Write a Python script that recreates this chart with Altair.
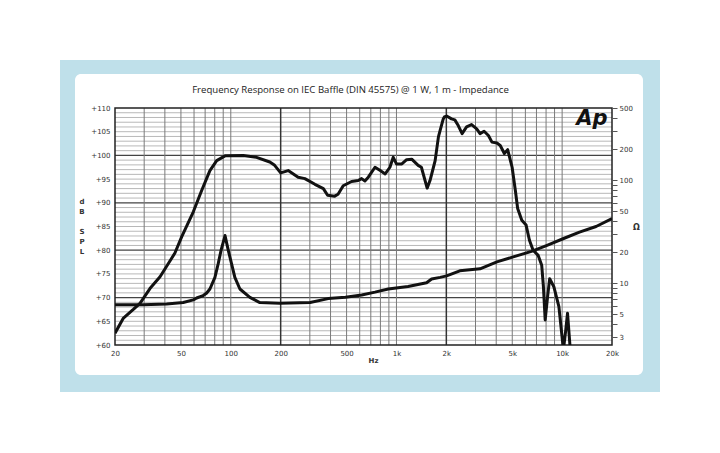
import altair as alt
import pandas as pd

# ---------------- data ----------------
spl_freq = [20, 22.4, 25.8, 28.3, 32.5, 37.4, 42, 46, 50.5, 59.4, 66.7, 74.8, 82.2, 92.3,
            119, 143, 172, 184, 200, 222, 255, 280, 322, 362, 384, 424, 444, 477, 536,
            588, 616, 645, 676, 742, 798, 855, 913, 956, 1000, 1078, 1152, 1236, 1352,
            1414, 1532, 1594, 1672, 1712, 1792, 1835, 1916, 1946, 2008, 2150, 2250,
            2360, 2490, 2650, 2840, 3050, 3195, 3380, 3590, 3770, 4040, 4230, 4480,
            4690, 4990, 5220, 5390, 5710, 6060, 6350, 6680, 7170, 7530, 7710, 7900,
            8170, 8410, 8910, 9560, 10180, 10520, 10780, 11200]
spl_db = [62.5, 65.6, 67.5, 68.8, 71.9, 74.4, 77.2, 79.4, 82.8, 88.1, 92.6, 96.8, 98.9, 99.9,
          100.0, 99.6, 98.6, 97.9, 96.3, 96.8, 95.4, 95.1, 93.9, 93.0, 91.6, 91.4, 91.8, 93.6, 94.5,
          94.7, 95.1, 94.6, 95.4, 97.5, 96.8, 96.1, 97.5, 99.6, 98.2, 98.2, 99.1, 99.2, 97.9,
          97.5, 93.1, 94.7, 97.5, 98.9, 103.9, 105.3, 107.7, 108.1, 108.3, 107.7, 107.5,
          106.3, 104.6, 106.0, 106.5, 105.6, 104.6, 105.1, 104.2, 102.8, 102.6, 102.1, 100.4,
          101.2, 97.5, 92.6, 88.8, 86.3, 85.3, 82.1, 80.0, 78.9, 76.8, 72.3, 65.3,
          70.2, 74.0, 72.3, 68.1, 59.0, 63.2, 66.7, 59.0]

imp_freq = [20, 29.6, 41, 51.6, 59.4, 62.2, 68.1, 71.3, 74.8, 80.2, 83.9, 87.3, 92.3, 96.6,
            101.1, 105.8, 113.5, 130.4, 149.7, 197, 301, 387, 492, 617, 742, 892, 1175,
            1520, 1630, 1835, 2008, 2412, 3195, 4040, 5070, 6530, 8040, 10120, 12730,
            16030, 20000]
imp_ohm = [6.2, 6.2, 6.3, 6.5, 6.9, 7.2, 7.6, 8.0, 8.8, 11.4, 15.4, 20.8, 29.0, 20.8,
           15.4, 11.4, 8.8, 7.3, 6.5, 6.4, 6.5, 7.1, 7.3, 7.7, 8.2, 8.8, 9.3,
           10.1, 11.0, 11.4, 11.8, 13.2, 13.8, 16.1, 18.0, 20.4, 23.2, 27.0, 31.3,
           35.5, 42.3]

x_tick_values = [20, 50, 100, 200, 500, 1000, 2000, 5000, 10000, 20000]
db_tick_values = [60, 65, 70, 75, 80, 85, 90, 95, 100, 105, 110]
ohm_tick_values = [3, 4, 5, 6, 7, 8, 9, 10, 20, 30, 40, 50, 60, 70, 80, 90,
                   100, 200, 300, 400, 500]
ohm_label_values = [3, 5, 10, 20, 50, 100, 200, 500]

grid_freq_minor = [30, 40, 50, 60, 70, 80, 90, 100, 300, 400, 500, 600, 700, 800, 900,
                   1000, 3000, 4000, 5000, 6000, 7000, 8000, 9000, 10000]
grid_freq_major = [200, 2000]
grid_db_minor = [d for d in range(61, 110) if d % 10 != 0]
grid_db_major = [70, 80, 90, 100]

title_text = "Frequency Response on IEC Baffle (DIN 45575) @ 1 W, 1 m - Impedance"
y_title_top = ["d", "B"]
y_title_bottom = ["S", "P", "L"]

# ---------------- tables ----------------
spl_df = pd.DataFrame({"f": spl_freq, "db": spl_db})
imp_df = pd.DataFrame({"f": imp_freq, "ohm": imp_ohm})
vmin_df = pd.DataFrame({"f": grid_freq_minor})
vmaj_df = pd.DataFrame({"f": grid_freq_major})
hmin_df = pd.DataFrame({"db": grid_db_minor})
hmaj_df = pd.DataFrame({"db": grid_db_major})
one = pd.DataFrame({"k": [0]})

W, H = 497, 237
LAB = "DejaVu Sans"
ohm_label_expr = ("indexof([" + ",".join(str(v) for v in ohm_label_values) +
                  "], datum.value) >= 0 ? '' + datum.value : ''")

xscale = alt.Scale(type="log", domain=[20, 20000], nice=False)
yscale = alt.Scale(domain=[60, 110], nice=False, zero=False)
oscale = alt.Scale(type="log", domain=[2.52, 500], nice=False)

xaxis = alt.Axis(values=x_tick_values,
                 labelExpr="datum.value >= 1000 ? (datum.value/1000) + 'k' : '' + datum.value",
                 orient="bottom", ticks=False, domain=False, grid=False,
                 labelFont=LAB, labelFontSize=7, labelColor="#333", labelPadding=4,
                 labelFlush=False, labelOverlap=False,
                 title="Hz", titleFont=LAB, titleFontSize=7, titleColor="#333",
                 titleFontWeight="bold", titleX=258, titleY=15, titleAlign="center",
                 titleBaseline="middle", zindex=1)
yaxis = alt.Axis(values=db_tick_values, labelExpr="'+' + datum.value",
                 orient="left", ticks=False, domain=False, grid=False,
                 labelFont=LAB, labelFontSize=7, labelColor="#333", labelPadding=5,
                 labelFlush=False, labelOverlap=False,
                 title=None, zindex=1)
oaxis = alt.Axis(values=ohm_tick_values, labelExpr=ohm_label_expr,
                 orient="right", ticks=True, tickSize=5, tickColor="#555", tickWidth=1,
                 domain=False, grid=False,
                 labelFont=LAB, labelFontSize=7, labelColor="#333", labelPadding=2,
                 labelFlush=False, labelOverlap=False,
                 title="Ω", titleAngle=0, titleX=24, titleY=119, titleAlign="center",
                 titleBaseline="middle", titleFont=LAB, titleFontSize=8, titleColor="#333",
                 titleFontWeight="bold", zindex=1)

# ---------------- decorative frame ----------------
outer = alt.Chart(one).mark_rect(color="#bfe0ea").encode(
    x=alt.value(-55), x2=alt.value(545), y=alt.value(-48), y2=alt.value(284))
panel = alt.Chart(one).mark_rect(color="white", cornerRadius=6).encode(
    x=alt.value(-40), x2=alt.value(528), y=alt.value(-34), y2=alt.value(267))

# ---------------- grid ----------------
hmin = alt.Chart(hmin_df).mark_rule(color="#a6a6a6", strokeWidth=0.8).encode(
    y=alt.Y("db:Q", scale=yscale, axis=yaxis))
hmaj = alt.Chart(hmaj_df).mark_rule(color="#444", strokeWidth=1.3).encode(
    y=alt.Y("db:Q", scale=yscale, axis=yaxis))
vmin = alt.Chart(vmin_df).mark_rule(color="#7a7a7a", strokeWidth=1).encode(
    x=alt.X("f:Q", scale=xscale, axis=xaxis))
vmaj = alt.Chart(vmaj_df).mark_rule(color="#333", strokeWidth=1.5).encode(
    x=alt.X("f:Q", scale=xscale, axis=xaxis))
border = alt.Chart(one).mark_rect(fillOpacity=0, stroke="#222", strokeWidth=1.5).encode(
    x=alt.value(0), x2=alt.value(W), y=alt.value(0), y2=alt.value(H))

# ---------------- curves ----------------
spl = alt.Chart(spl_df).mark_line(color="#111", strokeWidth=3, clip=True,
                                  strokeJoin="round").encode(
    x=alt.X("f:Q", scale=xscale, axis=xaxis),
    y=alt.Y("db:Q", scale=yscale, axis=yaxis),
    order="f:Q")
logo = alt.Chart(one).mark_text(text="Ap", font=LAB, fontSize=21, fontStyle="italic",
                                fontWeight="bold", color="#111").encode(
    x=alt.value(477), y=alt.value(11))
ylabel1 = alt.Chart(one).mark_text(text=y_title_top, font=LAB, fontSize=7,
                                   fontWeight="bold", color="#333", lineHeight=10,
                                   align="center", baseline="middle").encode(
    x=alt.value(-33), y=alt.value(94))
ylabel2 = alt.Chart(one).mark_text(text=y_title_bottom, font=LAB, fontSize=7,
                                   fontWeight="bold", color="#333", lineHeight=10,
                                   align="center", baseline="middle").encode(
    x=alt.value(-33), y=alt.value(124))

left = alt.layer(outer, panel, hmin, hmaj, vmin, vmaj, border, spl, logo, ylabel1, ylabel2)

imp = alt.Chart(imp_df).mark_line(color="#111", strokeWidth=3, clip=True,
                                  strokeJoin="round").encode(
    x=alt.X("f:Q", scale=xscale, axis=xaxis),
    y=alt.Y("ohm:Q", scale=oscale, axis=oaxis),
    order="f:Q")

chart = alt.layer(left, imp).resolve_scale(y="independent").properties(
    width=W, height=H,
    autosize=alt.AutoSizeParams(type="none"),
    padding={"left": 115, "top": 108, "right": 108, "bottom": 108},
    title=alt.TitleParams(text=title_text, font="Open Sans", fontSize=9.6,
                          fontWeight="normal", color="#222", anchor="middle",
                          dx=-13, dy=47, offset=12, zindex=1),
).configure_view(stroke=None).configure(background="white")

chart.save("out.html", embed_options={"renderer": "svg", "actions": False})
